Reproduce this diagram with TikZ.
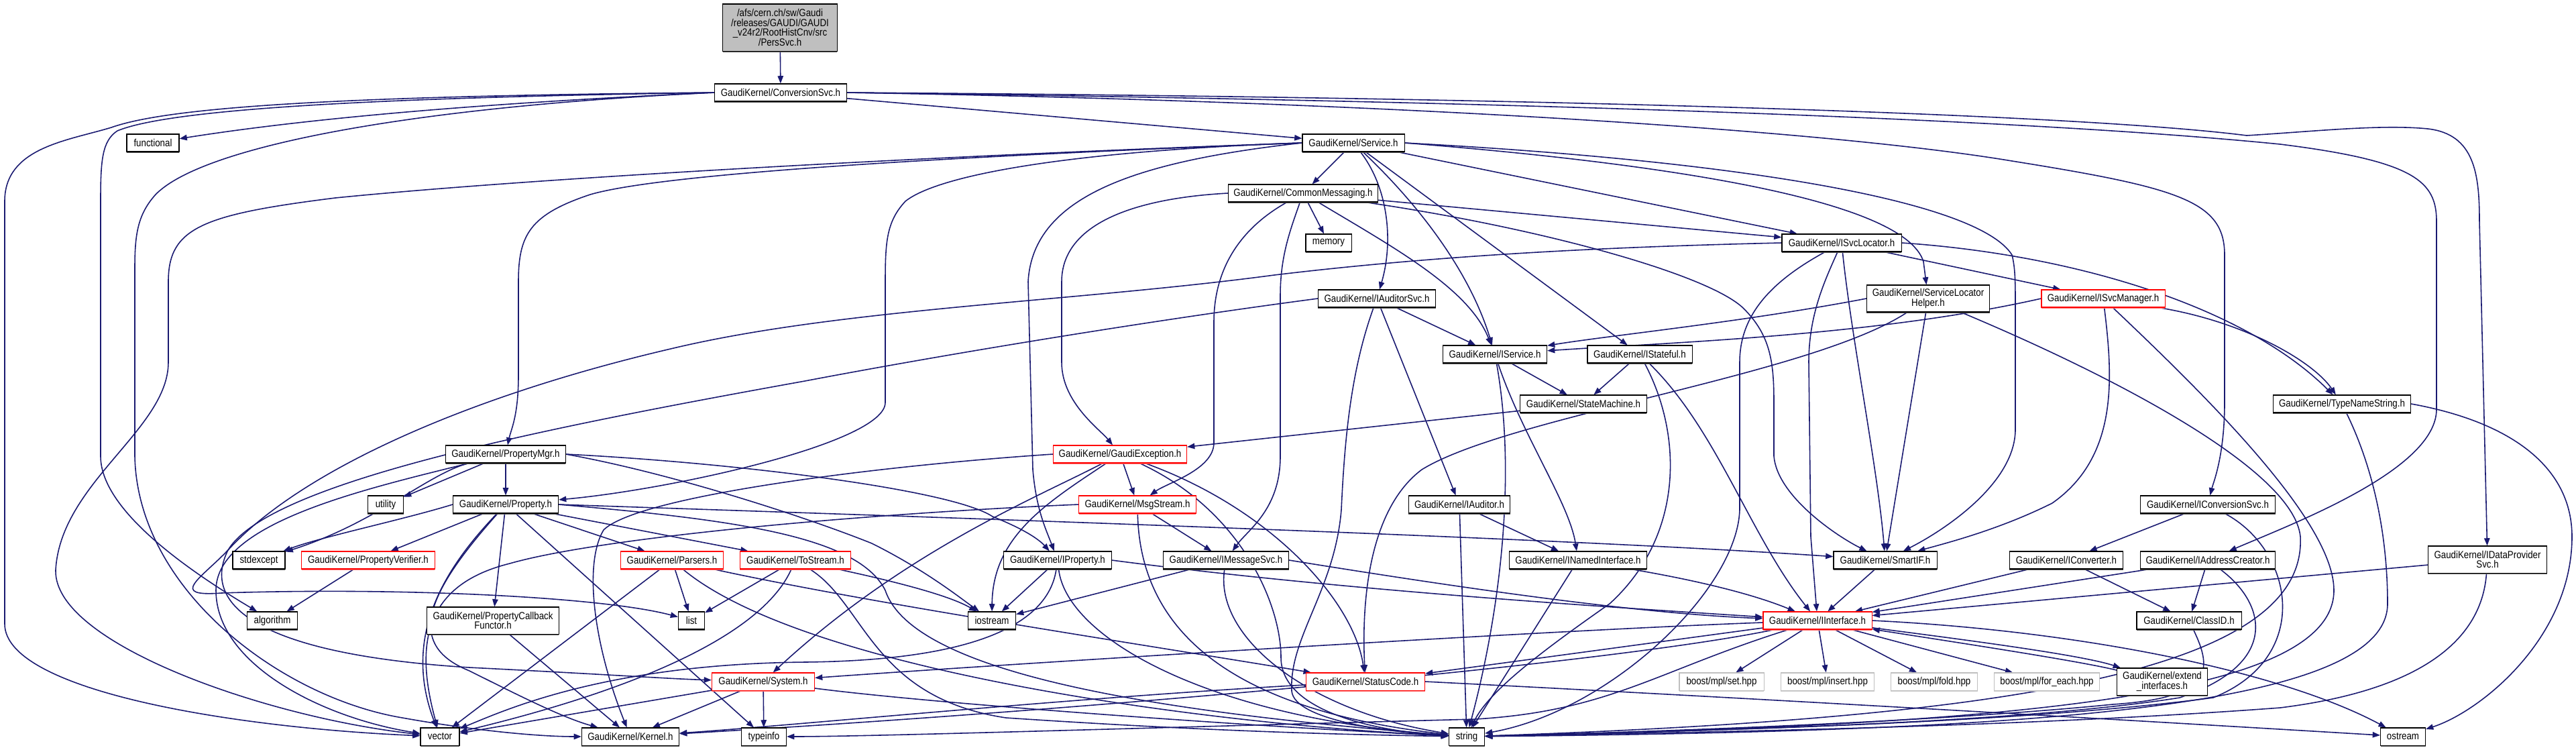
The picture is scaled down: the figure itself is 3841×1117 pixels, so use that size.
\documentclass[tikz,border=0pt]{standalone}
\usepackage{fontspec}
\newfontfamily\doxfont{Liberation Sans}[FakeStretch=0.86]
\usetikzlibrary{arrows.meta, shadows, backgrounds}

\definecolor{edgeblue}{RGB}{25,25,112}
\definecolor{rootgray}{RGB}{191,191,191}

\begin{document}
\begin{tikzpicture}[
    x=0.01cm, y=-0.01cm,
    dox/.style={fill=white, line width=0.3pt, inner xsep=0.05cm, inner ysep=0pt,
                minimum height=0.26cm, align=center,
                font=\doxfont\fontsize{4.4}{4.2}\selectfont},
    box/.style={dox, draw=black,
                drop shadow={shadow xshift=0pt, shadow yshift=-0.45pt, fill=black!65, opacity=1}},
    redbox/.style={dox, draw=red,
                drop shadow={shadow xshift=0pt, shadow yshift=-0.45pt, fill=red!55, opacity=1}},
    extbox/.style={dox, draw=black!25,
                drop shadow={shadow xshift=0pt, shadow yshift=-0.45pt, fill=black!20, opacity=1}},
    rootbox/.style={box, fill=rootgray},
    dep/.style={draw=edgeblue, line width=0.45pt, -{Triangle[length=3.2pt, width=2.4pt]}}
  ]
  \useasboundingbox (0,0) rectangle (3841,1117);

  % Top rows
  \node[rootbox, minimum width=1.70cm, minimum height=0.70cm] (pers) at (1163,41)
    {/afs/cern.ch/sw/Gaudi\\/releases/GAUDI/GAUDI\\\_v24r2/RootHistCnv/src\\/PersSvc.h};
  \node[box, minimum width=1.97cm] (csvc) at (1164,138) {GaudiKernel/ConversionSvc.h};
  \node[box, minimum width=0.78cm] (functional) at (228,213) {functional};
  \node[box, minimum width=1.52cm] (service) at (2018,213) {GaudiKernel/Service.h};
  \node[box, minimum width=2.23cm] (commsg) at (1943,288) {GaudiKernel/CommonMessaging.h};
  \node[box, minimum width=0.68cm] (memory) at (1981,362) {memory};
  \node[box, minimum width=1.78cm] (isvcloc) at (2746,362) {GaudiKernel/ISvcLocator.h};
  \node[box, minimum width=1.75cm] (iauditorsvc) at (2053,445) {GaudiKernel/IAuditorSvc.h};
  \node[box, minimum width=1.83cm, minimum height=0.40cm] (slhelper) at (2875,445)
    {GaudiKernel/ServiceLocator\\Helper.h};
  \node[redbox, minimum width=1.84cm] (isvcmgr) at (3136,445) {GaudiKernel/ISvcManager.h};
  \node[box, minimum width=1.55cm] (iservice) at (2229,528) {GaudiKernel/IService.h};
  \node[box, minimum width=1.56cm] (istateful) at (2445,528) {GaudiKernel/IStateful.h};
  \node[box, minimum width=1.88cm] (statemach) at (2361,602) {GaudiKernel/StateMachine.h};
  \node[box, minimum width=2.05cm] (typename) at (3492,602) {GaudiKernel/TypeNameString.h};

  % Middle rows
  \node[box, minimum width=1.78cm] (propmgr) at (754,677) {GaudiKernel/PropertyMgr.h};
  \node[redbox, minimum width=1.99cm] (gexcept) at (1670,677) {GaudiKernel/GaudiException.h};
  \node[box, minimum width=0.53cm] (utility) at (575,752) {utility};
  \node[box, minimum width=1.57cm] (property) at (754,752) {GaudiKernel/Property.h};
  \node[redbox, minimum width=1.74cm] (msgstream) at (1696,752) {GaudiKernel/MsgStream.h};
  \node[box, minimum width=1.51cm] (iauditor) at (2176,752) {GaudiKernel/IAuditor.h};
  \node[box, minimum width=2.01cm] (iconvsvc) at (3292,752) {GaudiKernel/IConversionSvc.h};
  \node[box, minimum width=0.78cm] (stdexcept) at (386,835) {stdexcept};
  \node[redbox, minimum width=1.98cm] (propverif) at (549,835) {GaudiKernel/PropertyVerifier.h};
  \node[redbox, minimum width=1.53cm] (parsers) at (1002,835) {GaudiKernel/Parsers.h};
  \node[redbox, minimum width=1.65cm] (tostream) at (1186,835) {GaudiKernel/ToStream.h};
  \node[box, minimum width=1.60cm] (iproperty) at (1577,835) {GaudiKernel/IProperty.h};
  \node[box, minimum width=1.87cm] (imsgsvc) at (1828,835) {GaudiKernel/IMessageSvc.h};
  \node[box, minimum width=2.04cm] (inamed) at (2353,835) {GaudiKernel/INamedInterface.h};
  \node[box, minimum width=1.54cm] (smartif) at (2811,835) {GaudiKernel/SmartIF.h};
  \node[box, minimum width=1.69cm] (iconverter) at (3081,835) {GaudiKernel/IConverter.h};
  \node[box, minimum width=2.01cm] (iaddr) at (3292,835) {GaudiKernel/IAddressCreator.h};
  \node[box, minimum width=1.77cm, minimum height=0.40cm] (idataprov) at (3709,834)
    {GaudiKernel/IDataProvider\\Svc.h};
  \node[box, minimum width=0.75cm] (algorithm) at (406,925) {algorithm};
  \node[box, minimum width=1.96cm, minimum height=0.40cm] (propcb) at (735,925)
    {GaudiKernel/PropertyCallback\\Functor.h};
  \node[box, minimum width=0.39cm] (list) at (1031,925) {list};
  \node[box, minimum width=0.71cm] (iostream) at (1479,925) {iostream};
  \node[redbox, minimum width=1.62cm] (iinterface) at (2710,925) {GaudiKernel/IInterface.h};
  \node[box, minimum width=1.56cm] (classid) at (3264,925) {GaudiKernel/ClassID.h};

  % Bottom rows
  \node[redbox, minimum width=1.53cm] (system) at (1138,1016) {GaudiKernel/System.h};
  \node[redbox, minimum width=1.77cm] (statuscode) at (2036,1016) {GaudiKernel/StatusCode.h};
  \node[extbox, minimum width=1.26cm] (bset) at (2567,1016) {boost/mpl/set.hpp};
  \node[extbox, minimum width=1.39cm] (binsert) at (2725,1016) {boost/mpl/insert.hpp};
  \node[extbox, minimum width=1.29cm] (bfold) at (2884,1016) {boost/mpl/fold.hpp};
  \node[extbox, minimum width=1.57cm] (bforeach) at (3052,1016) {boost/mpl/for\_each.hpp};
  \node[box, minimum width=1.35cm, minimum height=0.40cm] (extendif) at (3224,1016)
    {GaudiKernel/extend\\\_interfaces.h};
  \node[box, minimum width=0.58cm] (vector) at (656,1098) {vector};
  \node[box, minimum width=1.45cm] (kernel) at (940,1098) {GaudiKernel/Kernel.h};
  \node[box, minimum width=0.67cm] (typeinfo) at (1139,1098) {typeinfo};
  \node[box, minimum width=0.53cm] (string) at (2187,1098) {string};
  \node[box, minimum width=0.67cm] (ostream) at (3583,1098) {ostream};

  \begin{scope}[on background layer]
  % ConversionSvc.h
  \draw[dep] (pers) -- (csvc);
  \draw[dep] (csvc.west) .. controls (800,150) and (500,170) .. (functional);
  \draw[dep] (csvc.west) .. controls (500,143) and (250,160) .. (166,190) .. controls (100,210) and (7,220) .. (7,300)
    -- (7,930) .. controls (7,1030) and (350,1085) .. (vector);
  \draw[dep] (csvc.west) .. controls (600,145) and (260,160) .. (175,195) .. controls (152,210) and (150,240) .. (150,300)
    -- (150,680) .. controls (150,760) and (280,850) .. (algorithm);
  \draw[dep] (csvc.west) .. controls (600,160) and (300,220) .. (232,290) .. controls (205,320) and (201,350) .. (201,400)
    -- (201,680) .. controls (205,880) and (420,1040) .. (600,1070) .. controls (700,1088) and (800,1098) .. (kernel);
  \draw[dep] (csvc) -- (service);
  \draw[dep] (csvc.east) .. controls (2000,150) and (2700,190) .. (3000,240) .. controls (3250,280) and (3317,300) .. (3317,380)
    -- (3317,600) .. controls (3317,680) and (3300,720) .. (iconvsvc);
  \draw[dep] (csvc.east) .. controls (2200,150) and (3000,175) .. (3400,215) .. controls (3600,240) and (3633,270) .. (3633,330)
    -- (3633,610) .. controls (3633,700) and (3420,780) .. (iaddr);
  \draw[dep] (csvc.east) .. controls (2300,145) and (3100,170) .. (3350,202) .. controls (3450,196) and (3550,185) .. (3620,192)
    .. controls (3690,200) and (3697,260) .. (3697,330) -- (idataprov);

  % Service.h
  \draw[dep] (service.west) .. controls (1500,230) and (1000,255) .. (880,290) .. controls (790,320) and (773,350) .. (773,420)
    -- (773,560) .. controls (773,620) and (762,640) .. (propmgr);
  \draw[dep] (service.west) .. controls (1400,232) and (800,265) .. (500,295) .. controls (300,320) and (251,340) .. (251,420)
    -- (251,540) .. controls (251,640) and (90,720) .. (83,850) .. controls (80,960) and (400,1070) .. (vector);
  \draw[dep] (service.west) .. controls (1600,225) and (1400,260) .. (1350,300) .. controls (1322,330) and (1320,360) .. (1320,420)
    -- (1320,600) .. controls (1320,660) and (1000,730) .. (property);
  \draw[dep] (service.west) .. controls (1700,240) and (1540,290) .. (1533,420) -- (1540,700)
    .. controls (1545,760) and (1560,790) .. (iproperty);
  \draw[dep] (service) -- (commsg);
  \draw[dep] (service) .. controls (2070,280) and (2078,360) .. (iauditorsvc);
  \draw[dep] (service) .. controls (2110,300) and (2190,400) .. (iservice);
  \draw[dep] (service) -- (istateful);
  \draw[dep] (service) -- (isvcloc);
  \draw[dep] (service.east) .. controls (2500,245) and (2840,300) .. (2868,390) -- (slhelper);
  \draw[dep] (service.east) .. controls (2600,240) and (2950,300) .. (3000,380) .. controls (3005,400) and (3005,420) .. (3005,460)
    -- (3005,640) .. controls (3005,720) and (2900,790) .. (smartif);

  % CommonMessaging.h
  \draw[dep] (commsg.west) .. controls (1700,295) and (1583,330) .. (1583,420) -- (1583,540)
    .. controls (1583,600) and (1640,640) .. (gexcept);
  \draw[dep] (commsg) .. controls (1850,340) and (1810,400) .. (1810,480) -- (1810,660)
    .. controls (1810,700) and (1740,720) .. (msgstream);
  \draw[dep] (commsg) .. controls (1925,340) and (1909,380) .. (1909,440) -- (1909,680)
    .. controls (1909,760) and (1860,790) .. (imsgsvc);
  \draw[dep] (commsg) -- (memory);
  \draw[dep] (commsg) .. controls (2080,370) and (2190,430) .. (iservice);
  \draw[dep] (commsg) -- (isvcloc);
  \draw[dep] (commsg) .. controls (2300,340) and (2550,410) .. (2600,460) .. controls (2640,500) and (2645,540) .. (2645,600)
    -- (2645,680) .. controls (2650,740) and (2740,800) .. (smartif);

  % PropertyMgr.h and Property.h
  \draw[dep] (propmgr) -- (utility);
  \draw[dep] (propmgr) -- (property);
  \draw[dep] (propmgr) .. controls (640,705) and (560,780) .. (stdexcept);
  \draw[dep] (propmgr) .. controls (540,730) and (322,780) .. (322,880) .. controls (322,990) and (480,1070) .. (vector);
  \draw[dep] (propmgr.east) .. controls (1100,690) and (1420,730) .. (1480,770) .. controls (1530,790) and (1550,805) .. (iproperty);
  \draw[dep] (propmgr.east) .. controls (1000,705) and (1200,770) .. (1300,810) .. controls (1380,850) and (1430,890) .. (iostream);
  \draw[dep] (property.west) .. controls (600,775) and (480,800) .. (stdexcept);
  \draw[dep] (property) -- (propverif);
  \draw[dep] (property) .. controls (660,850) and (600,950) .. (vector);
  \draw[dep] (property) -- (propcb);
  \draw[dep] (property) .. controls (640,880) and (600,960) .. (700,1000) .. controls (780,1040) and (840,1070) .. (kernel);
  \draw[dep] (property) -- (typeinfo);
  \draw[dep] (property) -- (parsers);
  \draw[dep] (property) -- (tostream);
  \draw[dep] (property.east) .. controls (1300,768) and (2300,800) .. (smartif);
  \draw[dep] (property.east) .. controls (1100,775) and (1280,800) .. (1320,880) .. controls (1360,1000) and (1700,1060) .. (string);
  \draw[dep] (propverif) -- (algorithm);
  \draw[dep] (propcb) -- (kernel);

  % GaudiException.h and MsgStream.h
  \draw[dep] (gexcept.west) .. controls (1300,695) and (950,740) .. (900,790) .. controls (870,840) and (885,960) .. (kernel);
  \draw[dep] (gexcept) .. controls (1550,740) and (1350,820) .. (system);
  \draw[dep] (gexcept) .. controls (1560,750) and (1480,800) .. (iostream);
  \draw[dep] (gexcept) -- (msgstream);
  \draw[dep] (gexcept) .. controls (1850,760) and (1910,900) .. (1910,980) .. controls (1910,1060) and (2050,1090) .. (string);
  \draw[dep] (gexcept) .. controls (1900,760) and (2020,900) .. (statuscode);
  \draw[dep] (msgstream.west) .. controls (1300,765) and (900,800) .. (760,840) .. controls (640,870) and (615,950) .. (vector);
  \draw[dep] (msgstream) -- (imsgsvc);
  \draw[dep] (msgstream) .. controls (1700,950) and (1850,1060) .. (string);

  % IAuditorSvc.h, IService.h, IStateful.h
  \draw[dep] (iauditorsvc) -- (iservice);
  \draw[dep] (iauditorsvc) -- (iauditor);
  \draw[dep] (iauditorsvc) .. controls (2015,550) and (2005,650) .. (2000,760) .. controls (1990,880) and (1922,950) .. (1926,1030)
    .. controls (1930,1075) and (2080,1092) .. (string);
  \draw[dep] (iauditorsvc.west) .. controls (1700,480) and (1400,530) .. (1200,568) .. controls (800,640) and (400,720) .. (340,820)
    .. controls (300,900) and (380,975) .. (700,995) .. controls (900,1005) and (1000,1012) .. (system);
  \draw[dep] (iservice) -- (statemach);
  \draw[dep] (iservice) .. controls (2270,650) and (2340,750) .. (inamed);
  \draw[dep] (iservice) .. controls (2260,700) and (2240,900) .. (string);
  \draw[dep] (istateful) -- (statemach);
  \draw[dep] (istateful) .. controls (2510,650) and (2510,800) .. (2400,900) .. controls (2300,970) and (2220,1030) .. (string);
  \draw[dep] (istateful) .. controls (2560,640) and (2610,800) .. (iinterface);
  \draw[dep] (statemach) -- (gexcept);
  \draw[dep] (iauditor) -- (inamed);
  \draw[dep] (iauditor) -- (string);
  \draw[dep] (inamed) -- (string);
  \draw[dep] (inamed) .. controls (2500,860) and (2600,880) .. (iinterface);

  % ISvcLocator.h and friends
  \draw[dep] (isvcloc.west) .. controls (2400,368) and (2150,380) .. (1900,410) .. controls (1600,450) and (1250,460) .. (1000,520)
    .. controls (700,590) and (450,700) .. (340,820) .. controls (300,862) and (250,890) .. (330,884)
    .. controls (600,875) and (900,890) .. (list);
  \draw[dep] (isvcloc) .. controls (2640,420) and (2594,470) .. (2594,540) -- (2594,760)
    .. controls (2590,880) and (2400,1060) .. (string);
  \draw[dep] (isvcloc) .. controls (2720,420) and (2697,470) .. (2697,540) -- (2700,800) -- (iinterface);
  \draw[dep] (isvcloc) .. controls (2760,500) and (2800,700) .. (smartif);
  \draw[dep] (isvcloc) -- (isvcmgr);
  \draw[dep] (isvcloc.east) .. controls (3100,380) and (3350,460) .. (typename);
  \draw[dep] (slhelper.west) .. controls (2600,480) and (2400,500) .. (iservice);
  \draw[dep] (slhelper) .. controls (2700,560) and (2250,620) .. (2120,700) .. controls (2040,760) and (2030,900) .. (statuscode);
  \draw[dep] (slhelper) -- (smartif);
  \draw[dep] (slhelper) .. controls (3150,560) and (3420,700) .. (3430,800) .. controls (3440,1000) and (3000,1070) .. (string);
  \draw[dep] (isvcmgr.west) .. controls (2800,500) and (2500,510) .. (iservice);
  \draw[dep] (isvcmgr) .. controls (3150,560) and (3160,680) .. (3060,750) .. controls (2980,790) and (2900,810) .. (smartif);
  \draw[dep] (isvcmgr) .. controls (3300,600) and (3480,780) .. (3480,880) .. controls (3480,1040) and (3000,1080) .. (string);
  \draw[dep] (isvcmgr) .. controls (3350,480) and (3450,540) .. (typename);
  \draw[dep] (typename) .. controls (3540,700) and (3560,800) .. (3560,900) .. controls (3560,1060) and (3000,1090) .. (string);
  \draw[dep] (typename.east) .. controls (3750,630) and (3835,700) .. (3835,800) .. controls (3835,950) and (3700,1060) .. (ostream);
  \draw[dep] (smartif) -- (iinterface);

  % Conversion interfaces
  \draw[dep] (iconvsvc) -- (iconverter);
  \draw[dep] (iconvsvc) .. controls (3420,820) and (3450,980) .. (3300,1040) .. controls (3000,1080) and (2500,1090) .. (string);
  \draw[dep] (iconverter) -- (iinterface);
  \draw[dep] (iconverter) -- (classid);
  \draw[dep] (iaddr) -- (iinterface);
  \draw[dep] (iaddr) -- (classid);
  \draw[dep] (iaddr) .. controls (3380,900) and (3400,990) .. (3250,1040) .. controls (3000,1080) and (2500,1090) .. (string);
  \draw[dep] (idataprov) -- (iinterface);
  \draw[dep] (idataprov) .. controls (3700,960) and (3600,1030) .. (3400,1055) .. controls (3000,1085) and (2500,1092) .. (string);
  \draw[dep] (classid) .. controls (3300,1000) and (3300,1040) .. (3150,1050) .. controls (2900,1075) and (2500,1090) .. (string);

  % IMessageSvc.h, IProperty.h
  \draw[dep] (imsgsvc) -- (iostream);
  \draw[dep] (imsgsvc) .. controls (1810,950) and (1950,1060) .. (string);
  \draw[dep] (imsgsvc.east) .. controls (2200,880) and (2450,915) .. (iinterface);
  \draw[dep] (iproperty) -- (iostream);
  \draw[dep] (iproperty) .. controls (1590,950) and (1800,1070) .. (string);
  \draw[dep] (iproperty) .. controls (1560,950) and (1400,985) .. (1200,987) .. controls (900,990) and (750,1060) .. (vector);
  \draw[dep] (iproperty.east) .. controls (2000,880) and (2400,905) .. (iinterface);

  % Parsers.h, ToStream.h, System.h
  \draw[dep] (parsers) -- (vector);
  \draw[dep] (parsers) -- (list);
  \draw[dep] (parsers) .. controls (1200,1000) and (1800,1080) .. (string);
  \draw[dep] (parsers) .. controls (1300,900) and (1700,960) .. (statuscode);
  \draw[dep] (tostream) -- (list);
  \draw[dep] (tostream) .. controls (1130,960) and (900,1040) .. (vector);
  \draw[dep] (tostream) .. controls (1290,900) and (1300,1040) .. (1500,1070) .. controls (1800,1090) and (2000,1095) .. (string);
  \draw[dep] (tostream) .. controls (1350,870) and (1420,890) .. (iostream);
  \draw[dep] (system) -- (vector);
  \draw[dep] (system) -- (kernel);
  \draw[dep] (system) -- (typeinfo);
  \draw[dep] (system) .. controls (1400,1050) and (1900,1085) .. (string);

  % IInterface.h and StatusCode.h
  \draw[dep] (iinterface) -- (bset);
  \draw[dep] (iinterface) -- (binsert);
  \draw[dep] (iinterface) -- (bfold);
  \draw[dep] (iinterface) -- (bforeach);
  \draw[dep] (iinterface) .. controls (2900,950) and (3100,975) .. (extendif);
  \draw[dep] (extendif) .. controls (3100,985) and (2900,955) .. (iinterface);
  \draw[dep] (iinterface.east) .. controls (3100,940) and (3400,1000) .. (ostream);
  \draw[dep] (iinterface) .. controls (2300,940) and (1500,990) .. (system);
  \draw[dep] (iinterface) -- (statuscode);
  \draw[dep] (iinterface) .. controls (2400,990) and (1600,1060) .. (kernel);
  \draw[dep] (iinterface) .. controls (2470,1000) and (2400,1060) .. (2200,1072) .. controls (1700,1085) and (1300,1098) .. (typeinfo);
  \draw[dep] (statuscode) .. controls (1600,1040) and (1200,1080) .. (kernel);
  \draw[dep] (statuscode.east) .. controls (2600,1040) and (3200,1075) .. (ostream);
  \end{scope}

\end{tikzpicture}
\end{document}
